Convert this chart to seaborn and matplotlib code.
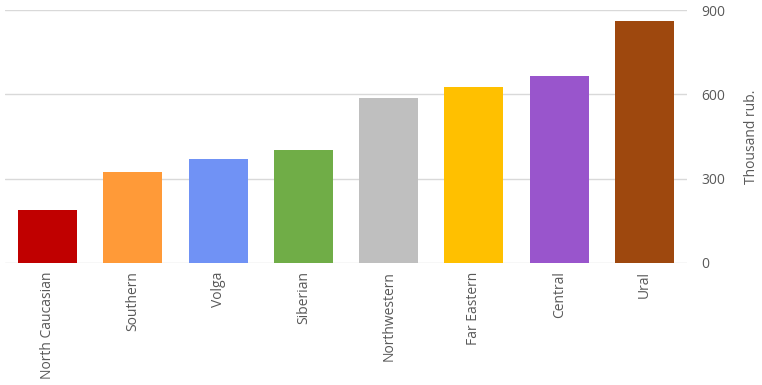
import matplotlib
matplotlib.use("Agg")
import matplotlib.pyplot as plt
import seaborn as sns
import pandas as pd

regions = ["North Caucasian", "Southern", "Volga", "Siberian", "Northwestern",
           "Far Eastern", "Central", "Ural"]
values = [189, 324, 370, 402, 587, 626, 665, 861]
colors = ["#C00000", "#FF9A38", "#7092F5", "#70AD47", "#BFBFBF",
          "#FFC000", "#9955CC", "#9E480E"]
yticks = [0, 300, 600, 900]

sns.set_theme(style="white")
plt.rcParams['font.family'] = ['Open Sans', 'DejaVu Sans']

df = pd.DataFrame({"region": regions, "value": values})

fig = plt.figure(figsize=(7.62, 3.85), dpi=100)
ax = fig.add_axes([5/762, (385-263)/385, (687-5)/762, (263-10)/385])
sns.barplot(data=df, x="region", y="value", hue="region", palette=colors,
            width=0.69, legend=False, ax=ax, saturation=1, linewidth=0,
            edgecolor="none")

ax.set_ylim(0, 900)
ax.set_xlim(-0.5, len(regions) - 0.5)
ax.set_yticks(yticks)
ax.yaxis.tick_right()
ax.yaxis.set_label_position("right")
ax.grid(axis="y", color="#D9D9D9", linewidth=1)
ax.set_axisbelow(True)
for s in ax.spines.values():
    s.set_visible(False)
ax.tick_params(axis="y", length=0, pad=10, labelsize=10, labelcolor="#595959")
ax.tick_params(axis="x", length=0, pad=6, labelsize=10, labelcolor="#595959", rotation=90)
ax.set_xlabel("")
ax.set_ylabel("Thousand rub.", color="#595959", fontsize=10, labelpad=14)

fig.savefig("out.png", dpi=100)
